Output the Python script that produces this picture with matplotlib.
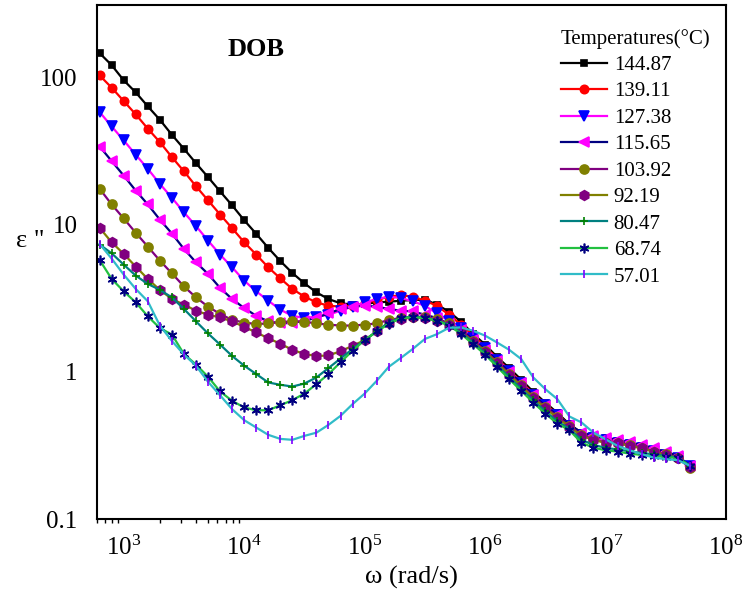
import matplotlib
matplotlib.use("Agg")
import matplotlib.pyplot as plt
from matplotlib.ticker import FixedLocator, FixedFormatter, LogFormatterMathtext, NullFormatter

plt.rcParams['font.family'] = ['Liberation Serif', 'DejaVu Serif']
plt.rcParams['mathtext.fontset'] = 'custom'
plt.rcParams['mathtext.rm'] = 'Liberation Serif'

# angular frequency (rad/s), 10 points per decade
omega = [631, 794, 1000, 1259, 1585, 1995, 2512, 3162, 3981, 5012,
         6310, 7943, 1.0e4, 1.259e4, 1.585e4, 1.995e4, 2.512e4, 3.162e4, 3.981e4, 5.012e4,
         6.310e4, 7.943e4, 1.0e5, 1.259e5, 1.585e5, 1.995e5, 2.512e5, 3.162e5, 3.981e5, 5.012e5,
         6.310e5, 7.943e5, 1.0e6, 1.259e6, 1.585e6, 1.995e6, 2.512e6, 3.162e6, 3.981e6, 5.012e6,
         6.310e6, 7.943e6, 1.0e7, 1.259e7, 1.585e7, 1.995e7, 2.512e7, 3.162e7, 3.981e7, 5.012e7]

t14487 = [146, 121, 95.5, 79, 63.5, 51.5, 40.7, 32.7, 26.1, 21.0,
          16.8, 13.5, 10.7, 8.65, 6.94, 5.65, 4.69, 3.99, 3.46, 3.12,
          2.92, 2.86, 2.89, 2.96, 2.99, 3.04, 3.07, 3.09, 2.86, 2.56,
          2.19, 1.81, 1.53, 1.26, 1.06, 0.883, 0.731, 0.618, 0.526, 0.440,
          0.386, 0.367, 0.356, 0.340, 0.327, 0.314, 0.295, 0.278, 0.262, 0.230]
t13911 = [103, 85.1, 69.0, 56.0, 44.8, 36.3, 28.7, 23.0, 18.2, 14.6,
          11.7, 9.44, 7.58, 6.25, 5.12, 4.31, 3.65, 3.24, 2.96, 2.81,
          2.77, 2.81, 2.92, 3.07, 3.24, 3.31, 3.24, 3.04, 2.81, 2.44,
          2.09, 1.76, 1.48, 1.23, 1.02, 0.855, 0.708, 0.601, 0.514, 0.433,
          0.379, 0.356, 0.345, 0.331, 0.319, 0.306, 0.290, 0.275, 0.260, 0.230]
t12738 = [58.1, 46.4, 37.3, 29.8, 23.9, 18.9, 15.2, 12.1, 9.77, 7.78,
          6.25, 5.12, 4.16, 3.52, 3.04, 2.64, 2.40, 2.32, 2.37, 2.44,
          2.60, 2.77, 2.96, 3.12, 3.24, 3.17, 3.01, 2.81, 2.49, 2.22,
          1.99, 1.70, 1.45, 1.21, 1.01, 0.842, 0.698, 0.592, 0.506, 0.429,
          0.373, 0.353, 0.342, 0.329, 0.316, 0.304, 0.288, 0.272, 0.258, 0.230]
t11565 = [33.9, 27.0, 21.5, 17.0, 13.7, 10.8, 8.69, 6.83, 5.54, 4.62,
          3.71, 3.12, 2.71, 2.40, 2.20, 2.13, 2.15, 2.22, 2.33, 2.49,
          2.67, 2.77, 2.81, 2.77, 2.67, 2.60, 2.57, 2.44, 2.32, 2.11,
          1.93, 1.65, 1.41, 1.19, 1.00, 0.835, 0.692, 0.587, 0.506, 0.436,
          0.385, 0.364, 0.356, 0.345, 0.331, 0.319, 0.302, 0.286, 0.268, 0.230]
t10392 = [17.5, 13.7, 11.0, 8.79, 7.08, 5.69, 4.66, 3.80, 3.20, 2.77,
          2.47, 2.25, 2.16, 2.11, 2.13, 2.18, 2.20, 2.19, 2.13, 2.09,
          2.06, 2.06, 2.09, 2.13, 2.25, 2.32, 2.37, 2.34, 2.28, 2.13,
          1.90, 1.62, 1.39, 1.16, 0.969, 0.809, 0.676, 0.574, 0.494, 0.429,
          0.373, 0.348, 0.330, 0.330, 0.319, 0.305, 0.287, 0.275, 0.261, 0.222]
t9219 = [9.50, 7.58, 6.32, 5.18, 4.27, 3.60, 3.12, 2.86, 2.60, 2.44,
         2.34, 2.20, 2.02, 1.85, 1.69, 1.55, 1.41, 1.32, 1.28, 1.29,
         1.38, 1.50, 1.64, 1.88, 2.16, 2.28, 2.34, 2.32, 2.22, 2.09,
         1.87, 1.60, 1.37, 1.14, 0.954, 0.797, 0.665, 0.565, 0.486, 0.423,
         0.367, 0.345, 0.329, 0.327, 0.314, 0.302, 0.286, 0.272, 0.260, 0.226]
t8047 = [7.31, 6.38, 5.34, 4.50, 3.95, 3.60, 3.20, 2.67, 2.20, 1.82,
         1.53, 1.28, 1.10, 0.965, 0.846, 0.816, 0.794, 0.832, 0.915, 1.06,
         1.23, 1.43, 1.64, 1.88, 2.16, 2.32, 2.37, 2.34, 2.22, 2.09,
         1.84, 1.58, 1.34, 1.11, 0.918, 0.766, 0.640, 0.539, 0.461, 0.410,
         0.345, 0.319, 0.304, 0.297, 0.288, 0.281, 0.275, 0.268, 0.262, 0.230]
t6874 = [5.75, 4.27, 3.52, 2.96, 2.38, 1.98, 1.79, 1.32, 1.12, 0.925,
         0.735, 0.635, 0.572, 0.548, 0.548, 0.592, 0.642, 0.711, 0.825, 0.965,
         1.16, 1.39, 1.64, 1.88, 2.11, 2.32, 2.34, 2.32, 2.22, 2.06,
         1.81, 1.54, 1.31, 1.08, 0.892, 0.743, 0.618, 0.520, 0.445, 0.401,
         0.330, 0.305, 0.293, 0.287, 0.278, 0.272, 0.268, 0.264, 0.259, 0.230]
t5701 = [7.39, 5.87, 4.57, 3.65, 3.01, 2.06, 1.62, 1.31, 1.10, 0.855,
         0.692, 0.557, 0.469, 0.418, 0.373, 0.350, 0.345, 0.367, 0.386, 0.436,
         0.502, 0.603, 0.711, 0.868, 1.08, 1.24, 1.43, 1.67, 1.80, 1.99,
         2.00, 1.90, 1.76, 1.58, 1.41, 1.22, 0.915, 0.762, 0.652, 0.497,
         0.453, 0.386, 0.348, 0.314, 0.293, 0.276, 0.261, 0.255, 0.251, 0.230]

labels = ['144.87', '139.11', '127.38', '115.65', '103.92', '92.19', '80.47', '68.74', '57.01']
series = [t14487, t13911, t12738, t11565, t10392, t9219, t8047, t6874, t5701]

# line colour, marker, marker colour, marker size
styles = [
    ('#000000', 's', '#000000', 4.5),
    ('#ff0000', 'o', '#ff0000', 6),
    ('#ff00ff', 'v', '#0000ff', 7),
    ('#000080', '<', '#ff00ff', 7),
    ('#800080', 'o', '#808000', 6.5),
    ('#808000', 'h', '#800080', 7),
    ('#008080', '+', '#008000', 6),
    ('#22c040', (6, 2, 0), '#000080', 7),
    ('#30bcc8', '|', '#8000ff', 6),
]

fig = plt.figure(figsize=(7.43, 6.05), dpi=100)
ax = fig.add_axes([97/743, 1-519/605, 629/743, 514/605])

for lab, ys, (lc, mk, mc, ms) in zip(labels, series, styles):
    ax.plot(omega, ys, color=lc, lw=1.6, marker=mk, ms=ms, mfc=mc, mec=mc,
            mew=1.2, label=lab)

ax.set_xscale('log')
ax.set_yscale('log')
ax.set_xlim(600, 1e8)
ax.set_ylim(0.1, 310)

ax.xaxis.set_major_locator(FixedLocator([1e3, 1e4, 1e5, 1e6, 1e7, 1e8]))
ax.xaxis.set_major_formatter(LogFormatterMathtext())
ax.xaxis.set_minor_locator(FixedLocator([600, 700, 800, 900, 2000, 3000, 4000, 5000,
                                         6000, 7000, 8000, 9000]))
ax.xaxis.set_minor_formatter(NullFormatter())
ax.yaxis.set_major_locator(FixedLocator([0.1, 1, 10, 100]))
ax.yaxis.set_major_formatter(FixedFormatter(['0.1', '1', '10', '100']))
ax.yaxis.set_minor_locator(FixedLocator([]))

ax.tick_params(axis='x', which='major', length=0, pad=12, labelsize=18)
ax.tick_params(axis='x', which='minor', length=3, width=1, direction='out')
ax.tick_params(axis='y', which='major', length=0, pad=14, labelsize=18)
for s in ax.spines.values():
    s.set_linewidth(1.5)

ax.set_xlabel('ω (rad/s)', fontsize=19, labelpad=4)
fig.text(30/743, 1-241/605, 'ε "', fontsize=19, ha='center', va='center')
ax.text(0.253, 0.914, 'DOB', transform=ax.transAxes, fontsize=19,
        fontweight='bold', ha='center', va='center')

leg = ax.legend(title='Temperatures(°C)', loc='upper left',
                bbox_to_anchor=(0.737, 0.954), frameon=False, fontsize=15,
                title_fontsize=15, numpoints=1, handlelength=2.25,
                handletextpad=0.3, labelspacing=0.33, borderpad=0,
                borderaxespad=0, alignment='left')

fig.savefig('out.png', dpi=100)
